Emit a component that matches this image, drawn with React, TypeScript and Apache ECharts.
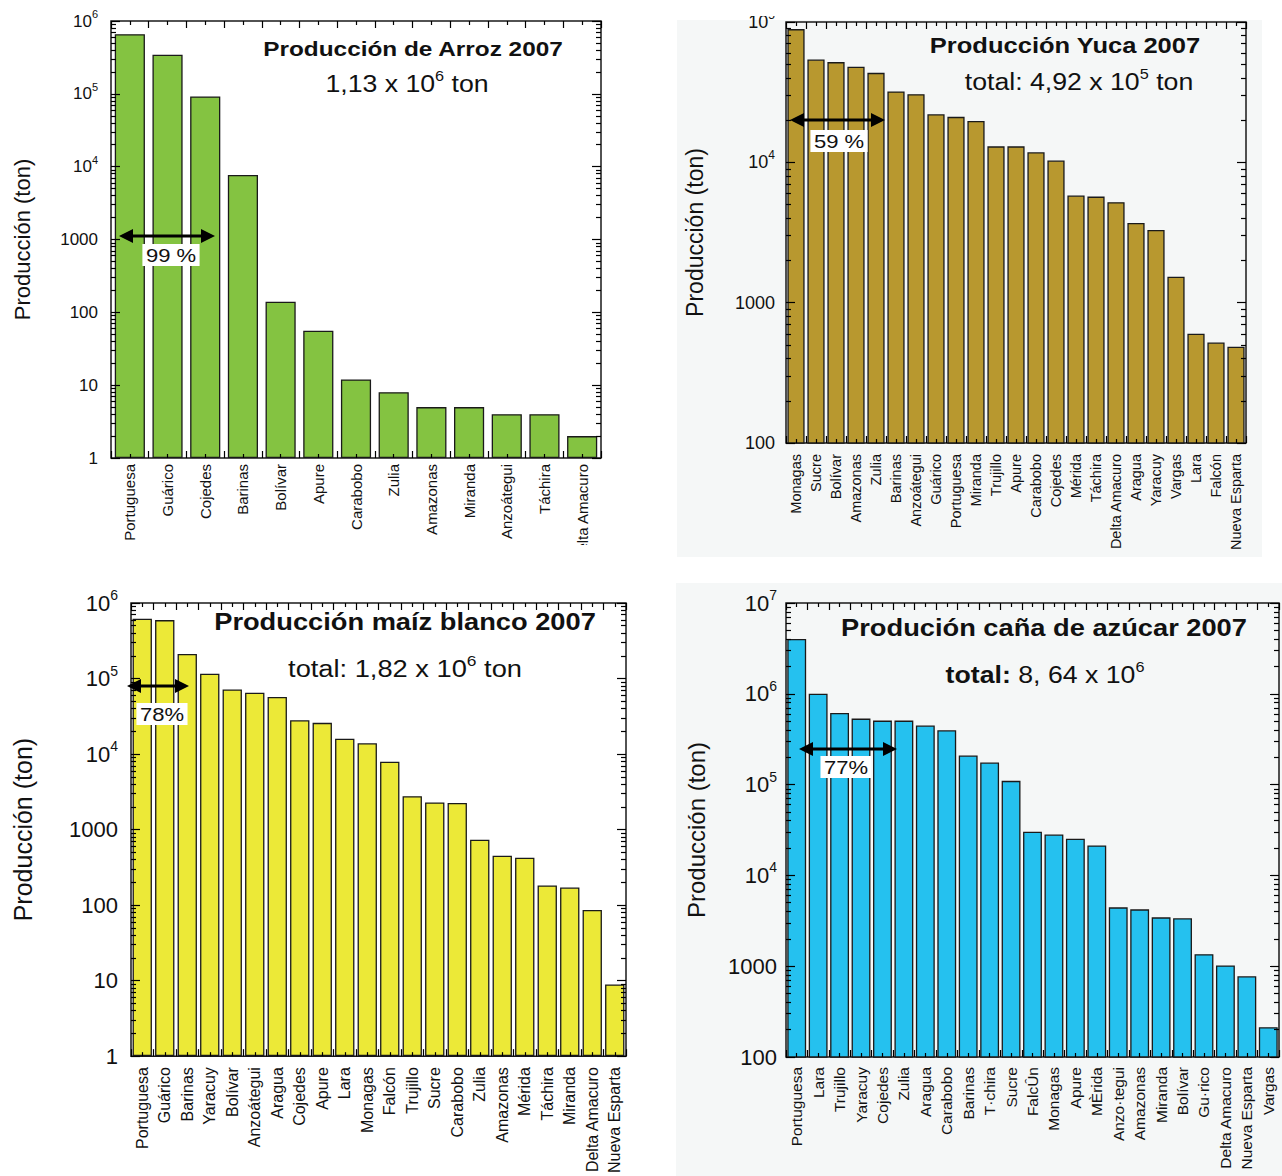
import React, { useEffect, useRef } from "react";
import * as echarts from "echarts";

// ---------- DATA ----------
const arrozCategories = ["Portuguesa", "Guárico", "Cojedes", "Barinas", "Bolívar", "Apure", "Carabobo", "Zulia", "Amazonas", "Miranda", "Anzoátegui", "Táchira", "Delta Amacuro"];
const arrozValues = [660000, 345000, 92000, 7700, 140, 56, 12, 8, 5, 5, 4, 4, 2];

const yucaCategories = ["Monagas", "Sucre", "Bolívar", "Amazonas", "Zulia", "Barinas", "Anzoátegui", "Guárico", "Portuguesa", "Miranda", "Trujillo", "Apure", "Carabobo", "Cojedes", "Mérida", "Táchira", "Delta Amacuro", "Aragua", "Yaracuy", "Vargas", "Lara", "Falcón", "Nueva Esparta"];
const yucaValues = [89000, 54000, 51800, 48000, 43400, 32000, 30600, 22000, 21100, 19700, 13000, 13000, 11800, 10300, 5800, 5700, 5200, 3700, 3300, 1530, 600, 520, 485];

const maizCategories = ["Portuguesa", "Guárico", "Barinas", "Yaracuy", "Bolívar", "Anzoátegui", "Aragua", "Cojedes", "Apure", "Lara", "Monagas", "Falcón", "Trujillo", "Sucre", "Carabobo", "Zulia", "Amazonas", "Mérida", "Táchira", "Miranda", "Delta Amacuro", "Nueva Esparta"];
const maizValues = [620000, 594000, 211000, 116000, 71700, 64900, 56900, 28000, 25900, 16000, 13900, 7900, 2770, 2290, 2250, 735, 450, 424, 182, 171, 86, 8.9];

const canaCategories = ["Portuguesa", "Lara", "Trujillo", "Yaracuy", "Cojedes", "Zulia", "Aragua", "Carabobo", "Barinas", "T·chira", "Sucre", "FalcÛn", "Monagas", "Apure", "MÈrida", "Anzo·tegui", "Amazonas", "Miranda", "Bolívar", "Gu·rico", "Delta Amacuro", "Nueva Esparta", "Vargas"];
const canaValues = [4020000, 1000000, 616000, 533000, 507000, 507000, 447000, 397000, 209000, 175000, 110000, 30300, 28200, 25300, 21400, 4450, 4230, 3450, 3370, 1355, 1020, 775, 213];

const yAxisName = "Producción (ton)";
const arrozRange = [1, 1e6];
const yucaRange = [100, 1e5];
const maizRange = [1, 1e6];
const canaRange = [100, 1e7];

// ---------- STYLE ----------
const FONT = "'Liberation Sans', Arial, Helvetica, sans-serif";
const INK = "#111";
const PANEL_BG = "#f5f7f7";
const STRETCH = 1.16;

const panels = [
  { cats: arrozCategories, vals: arrozValues, range: arrozRange, color: "#84c341", grid: { left: 111, top: 21, width: 490, height: 437 }, gap: "20%", xFont: 15, xMargin: 6, yFont: 17, supFont: 11, yMargin: 13, nameFont: 22, nameGap: 78 },
  { cats: yucaCategories, vals: yucaValues, range: yucaRange, color: "#b8982f", grid: { left: 786, top: 22, width: 460, height: 421 }, gap: "14%", xFont: 14.5, xMargin: 11, yFont: 18, supFont: 12, yMargin: 11, nameFont: 23, nameGap: 80 },
  { cats: maizCategories, vals: maizValues, range: maizRange, color: "#ece937", grid: { left: 131, top: 603, width: 495, height: 460 }, gap: "14%", xFont: 16, xMargin: 11, yFont: 22, supFont: 14, yMargin: 13, nameFont: 25, nameGap: 96 },
  { cats: canaCategories, vals: canaValues, range: canaRange, color: "#25c1ef", grid: { left: 786, top: 603, width: 493, height: 454 }, gap: "12%", xFont: 15.5, xMargin: 10, yFont: 22, supFont: 14, yMargin: 9, nameFont: 24, nameGap: 78 },
];

function minorTicks(min: number, max: number): number[] {
  const out: number[] = [];
  for (let d = Math.round(Math.log10(min)); d < Math.round(Math.log10(max)); d++) {
    for (let k = 2; k <= 9; k++) out.push(d + Math.log10(k));
  }
  return out;
}

function yFormatter(v: number) {
  const e = Math.round(Math.log10(v));
  return e >= 4 ? `{b|10}{s|${e}}` : `{b|${Math.round(v)}}`;
}

function buildOption() {
  const grid: any[] = [];
  const xAxis: any[] = [];
  const yAxis: any[] = [];
  const series: any[] = [];
  const tickLine = { color: "#000", width: 1.2 };

  panels.forEach((p, i) => {
    grid.push({ ...p.grid, show: true, borderColor: "#1a1a1a", borderWidth: 1.5, backgroundColor: "transparent", containLabel: false });
    const xBase = { gridIndex: i, z: 10, type: "category", data: p.cats, axisLine: { show: false }, splitLine: { show: false } };
    xAxis.push({ ...xBase, position: "bottom", axisTick: { show: true, inside: true, length: 7, interval: 0, lineStyle: tickLine }, axisLabel: { show: true, rotate: 90, interval: 0, fontSize: p.xFont, fontFamily: FONT, color: INK, margin: p.xMargin } });
    xAxis.push({ ...xBase, position: "bottom", axisTick: { show: true, inside: true, length: 4, interval: 0, alignWithLabel: true, lineStyle: tickLine }, axisLabel: { show: false } });
    xAxis.push({ ...xBase, position: "top", axisTick: { show: true, inside: true, length: 7, interval: 0, lineStyle: tickLine }, axisLabel: { show: false } });
    xAxis.push({ ...xBase, position: "top", axisTick: { show: true, inside: true, length: 4, interval: 0, alignWithLabel: true, lineStyle: tickLine }, axisLabel: { show: false } });

    const [mn, mx] = p.range;
    const lh = p.yFont + 8;
    yAxis.push({
      gridIndex: i, z: 10, type: "log", logBase: 10, min: mn, max: mx, position: "left",
      axisLine: { show: false }, splitLine: { show: false },
      axisTick: { show: true, inside: true, length: 9, lineStyle: tickLine },
      axisLabel: {
        show: true, margin: p.yMargin, formatter: yFormatter,
        rich: {
          b: { fontSize: p.yFont, fontFamily: FONT, color: INK, lineHeight: lh },
          s: { fontSize: p.supFont, fontFamily: FONT, color: INK, lineHeight: p.supFont + 2, verticalAlign: "top" },
        },
      },
      name: yAxisName, nameLocation: "middle", nameGap: p.nameGap,
      nameTextStyle: { fontSize: p.nameFont, fontFamily: FONT, color: INK },
    });
    yAxis.push({ gridIndex: i, z: 10, type: "log", logBase: 10, min: mn, max: mx, position: "right", axisLine: { show: false }, splitLine: { show: false }, axisTick: { show: true, inside: true, length: 9, lineStyle: tickLine }, axisLabel: { show: false } });
    const lmin = Math.log10(mn), lmax = Math.log10(mx);
    const minors = minorTicks(mn, mx);
    ["left", "right"].forEach((pos) => {
      yAxis.push({ gridIndex: i, z: 10, type: "value", min: lmin, max: lmax, position: pos, axisLine: { show: false }, splitLine: { show: false }, axisTick: { show: true, inside: true, length: 5, customValues: minors, lineStyle: tickLine }, axisLabel: { show: false } });
    });

    series.push({
      type: "bar", z: 2, xAxisIndex: i * 4, yAxisIndex: i * 4, data: p.vals, barCategoryGap: p.gap,
      itemStyle: { color: p.color, borderColor: "#1a1a1a", borderWidth: 1.3 },
      clip: true, silent: true,
    });
  });

  const txt = (x: number, y: number, text: string, rich: any) => ({
    type: "text", z: 100, x, y, scaleX: STRETCH,
    style: { x: 0, y: 0, text, rich, align: "center", verticalAlign: "middle", fill: INK, fontFamily: FONT },
  });
  const arrow = (x1: number, x2: number, y: number) => {
    const hl = 14, hh = 7;
    return [
      { type: "line", z: 100, shape: { x1: x1 + hl - 2, y1: y, x2: x2 - hl + 2, y2: y }, style: { stroke: "#000", lineWidth: 3 } },
      { type: "polygon", z: 100, shape: { points: [[x1, y], [x1 + hl, y - hh], [x1 + hl, y + hh]] }, style: { fill: "#000" } },
      { type: "polygon", z: 100, shape: { points: [[x2, y], [x2 - hl, y - hh], [x2 - hl, y + hh]] }, style: { fill: "#000" } },
    ];
  };
  const pct = (x: number, y: number, text: string) => ({
    type: "text", z: 101, x, y, scaleX: STRETCH,
    style: { x: 0, y: 0, text, align: "center", verticalAlign: "middle", fill: INK, font: `19px ${FONT}`, backgroundColor: "#fff", padding: [2, 3, 1, 3] },
  });
  const titleRich = (size: number) => ({
    t: { fontSize: size, fontWeight: "bold", fontFamily: FONT, fill: INK, lineHeight: size + 8 },
    a: { fontSize: size, fontFamily: FONT, fill: INK, lineHeight: size + 8 },
    s: { fontSize: Math.round(size * 0.62), fontFamily: FONT, fill: INK, lineHeight: Math.round(size * 0.62) + 2, verticalAlign: "top" },
  });

  const graphic: any[] = [
    { type: "rect", z: -10, shape: { x: 677, y: 20, width: 585, height: 537 }, style: { fill: PANEL_BG } },
    { type: "rect", z: -10, shape: { x: 676, y: 583, width: 606, height: 593 }, style: { fill: PANEL_BG } },
    // clipped pieces as in the reference
    { type: "rect", z: 99, shape: { x: 560, y: 545, width: 60, height: 30 }, style: { fill: "#fff" } },
    { type: "rect", z: 99, shape: { x: 700, y: 0, width: 86, height: 16 }, style: { fill: "#fff" } },
    // titles
    txt(413, 49, "{t|Producción de Arroz 2007}", titleRich(21)),
    txt(407, 84, "{a|1,13 x 10}{s|6}{a| ton}", titleRich(23)),
    txt(1065, 45, "{t|Producción Yuca 2007}", titleRich(22)),
    txt(1079, 82, "{a|total: 4,92 x 10}{s|5}{a| ton}", titleRich(23)),
    txt(405, 622, "{t|Producción maíz blanco 2007}", titleRich(23.5)),
    txt(405, 669, "{a|total: 1,82 x 10}{s|6}{a| ton}", titleRich(23.5)),
    txt(1044, 628, "{t|Produción caña de azúcar 2007}", titleRich(23.5)),
    txt(1045, 675, "{t|total:}{a| 8, 64 x 10}{s|6}", titleRich(23)),
    // arrows + shares
    ...arrow(119, 215, 236),
    pct(171, 255, "99 %"),
    ...arrow(790, 885, 120),
    pct(839, 141, "59 %"),
    ...arrow(127, 189, 686),
    pct(162, 714, "78%"),
    ...arrow(799, 897, 749),
    pct(846, 767, "77%"),
  ];

  return { animation: false, backgroundColor: "#fff", grid, xAxis, yAxis, series, graphic };
}

export default function App() {
  const ref = useRef<HTMLDivElement>(null);
  useEffect(() => {
    document.body.style.margin = "0";
    if (!ref.current) return;
    const chart = echarts.init(ref.current, undefined, { renderer: "svg" });
    chart.setOption(buildOption() as any);
    return () => chart.dispose();
  }, []);
  return <div ref={ref} style={{ width: 1282, height: 1176 }} />;
}
